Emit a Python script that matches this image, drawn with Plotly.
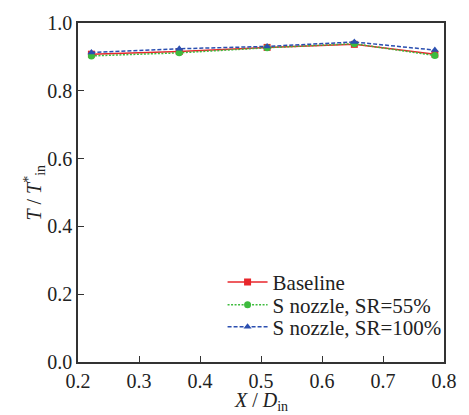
import plotly.graph_objects as go

x_pos = [0.222, 0.366, 0.510, 0.653, 0.785]
baseline = [0.908, 0.916, 0.928, 0.937, 0.908]
s_nozzle_55 = [0.903, 0.912, 0.927, 0.939, 0.904]
s_nozzle_100 = [0.913, 0.924, 0.931, 0.944, 0.920]

names = ["Baseline", "S nozzle, SR=55%", "S nozzle, SR=100%"]
colors = ["#e8262b", "#3dbb3d", "#2b4fb0"]
dashes = ["solid", "2px,1.5px", "4px,2px"]
symbols = ["square", "circle", "triangle-up"]
series = [baseline, s_nozzle_55, s_nozzle_100]
legend_ids = ["legend", "legend2", "legend3"]

fig = go.Figure()
for name, ys, c, d, s, lg in zip(names, series, colors, dashes, symbols, legend_ids):
    fig.add_trace(go.Scatter(
        x=x_pos, y=ys, name=name, mode="lines+markers",
        line=dict(color=c, width=1.5, dash=d),
        marker=dict(symbol=s, size=7, color=c),
        legend=lg,
    ))

fam = "Liberation Serif, Times New Roman, serif"
font = dict(family=fam, size=20, color="#222")
legfont = dict(family=fam, size=21, color="#222")
axis_common = dict(
    showline=True, linecolor="#333", linewidth=1.5, mirror=True,
    ticks="inside", ticklen=6, tickwidth=1, tickcolor="#333",
    showgrid=False, zeroline=False, tickfont=font,
)

def leg(y):
    return dict(x=0.395, y=y, xanchor="left", yanchor="middle",
                bgcolor="rgba(0,0,0,0)", font=legfont, itemwidth=40)

fig.update_layout(
    width=469, height=415,
    margin=dict(l=78, r=12, t=16, b=53),
    plot_bgcolor="white", paper_bgcolor="white",
    font=font,
    xaxis=dict(range=[0.2, 0.8], tickvals=[0.2, 0.3, 0.4, 0.5, 0.6, 0.7, 0.8],
               ticktext=["0.2", "0.3", "0.4", "0.5", "0.6", "0.7", "0.8"],
               **axis_common),
    yaxis=dict(range=[0.0, 1.0], tickvals=[0.0, 0.2, 0.4, 0.6, 0.8, 1.0],
               ticktext=["0.0", "0.2", "0.4", "0.6", "0.8", "1.0"],
               **axis_common),
    legend=leg(0.235),
    legend2=leg(0.168),
    legend3=leg(0.103),
    showlegend=True,
    annotations=[
        dict(text="<i>X</i> / <i>D</i><sub>in</sub>", x=0.5, y=-0.116,
             xref="paper", yref="paper", xanchor="center", yanchor="middle",
             showarrow=False, font=font),
        dict(text="<i>T</i> / <i>T</i><sup>*</sup><sub>in</sub>", x=-0.12, y=0.5,
             xref="paper", yref="paper", xanchor="center", yanchor="middle",
             textangle=-90, showarrow=False, font=font),
    ],
)
fig.write_html("out.html", config={"displayModeBar": False},
               post_script="document.body.style.margin='0';document.body.style.padding='0';document.body.style.overflow='hidden';")
